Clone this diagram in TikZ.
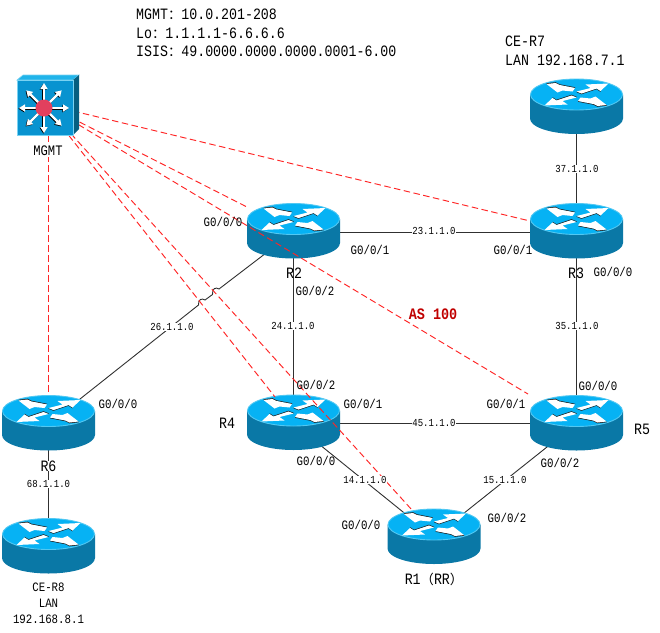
\documentclass[tikz,border=0pt]{standalone}
\usepackage{fontspec}
\setmainfont[FakeStretch=0.84]{Liberation Mono}
\newfontfamily\cjk{Noto Sans CJK SC}
\usetikzlibrary{arrows.meta,calc}
\definecolor{rtop}{HTML}{06B2F4}
\definecolor{rrim}{HTML}{52C8F2}
\definecolor{rside}{HTML}{0A78A6}
\definecolor{swfront}{HTML}{0893D0}
\definecolor{swtop}{HTML}{20B4EA}
\definecolor{swside}{HTML}{065F80}
\definecolor{hub}{HTML}{E2405E}
\definecolor{link}{HTML}{303030}
\definecolor{mgmtred}{HTML}{FF2626}
\definecolor{asred}{HTML}{C00000}
\tikzset{
  x=1pt,y=-1pt,
  linkline/.style={draw=link,line width=0.9pt},
  oob/.style={draw=mgmtred,line width=0.95pt,dash pattern=on 6.5pt off 3.5pt},
  iflabel/.style={font=\fontsize{12.8}{14}\selectfont,inner sep=0pt},
  netlabel/.style={font=\fontsize{10.7}{12}\selectfont,fill=white,inner sep=0.6pt},
  namelabel/.style={font=\fontsize{15.8}{18}\selectfont,inner sep=0pt},
  router/.pic={
    \fill[rside] (-46.5,0) -- (-46.5,24)
      .. controls (-46.5,32.6) and (-25.7,39.5) .. (0,39.5)
      .. controls (25.7,39.5) and (46.5,32.6) .. (46.5,24) -- (46.5,0) -- cycle;
    \fill[rtop,draw=rrim,line width=0.9pt] (0,0) ellipse [x radius=46,y radius=15.5];
    % four arrows on the lid, each with a thin dark edge
    \foreach \s in {1,-1}{
      \begin{scope}[xscale=\s,yscale=\s]
        \fill[black!85] (-30,-11.3) -- (-21,-12.3) -- (-17,-10.3) -- (-1.5,-7.3) -- (-1.5,-6.5) -- (-17,-9.5) -- (-30,-10.5) -- cycle;
        \fill[white] (-30,-10.5) -- (-21,-11.5) -- (-17,-9.5) -- (-1.5,-6.5) -- (-4,-3) -- (-14,-4) -- (-19,-2) -- cycle;
        \fill[black!85] (0,-2.2) -- (5,-0.2) -- (20,-5.2) -- (24,-2.7) -- (24,-3.5) -- (20,-6) -- (5,-1) -- (0,-3) -- cycle;
        \fill[white] (0,-3) -- (14,-6.5) -- (9,-10) -- (32,-11) -- (24,-3.5) -- (20,-6) -- (5,-1) -- cycle;
      \end{scope}
    }
  },
  spoke/.style={white,line width=2.4pt,-{Triangle[length=6pt,width=7pt]}},
  spokeedge/.style={black,line width=2.4pt,-{Triangle[length=6pt,width=7pt]}}
}
\begin{document}
\begin{tikzpicture}
\useasboundingbox (0,0) rectangle (660,632);

% attachment points of the routers
\coordinate (R2) at (293.5,232);
\coordinate (R3) at (576.5,232);
\coordinate (R4) at (293.5,423.5);
\coordinate (R5) at (576.5,423.5);
\coordinate (R1) at (434,537);
\coordinate (R6) at (48.5,424);
\coordinate (R7) at (576.5,107);
\coordinate (R8) at (48.5,547);
\coordinate (MGMT) at (44,104);
\coordinate (MGMTs) at (48,135);
\coordinate (tipR2) at (248,207.5);
\coordinate (tipR3) at (530,221);
\coordinate (tipR4) at (275,397);
\coordinate (tipR5) at (528,394);
\coordinate (tipR1) at (412,510);
\coordinate (tipR6) at (48,395);
\coordinate (hopAa) at (219,289);
\coordinate (hopAb) at (212.5,294.5);
\coordinate (hopBa) at (205,300);
\coordinate (hopBb) at (198.5,305);

% router-to-router links
\draw[linkline] (R2) -- (R3);
\draw[linkline] (R4) -- (R5);
\draw[linkline] (R2) -- (R4);
\draw[linkline] (R3) -- (R5);
\draw[linkline] (R7) -- (R3);
\draw[linkline] (R6) -- (R8);
\draw[linkline] (R4) -- (R1);
\draw[linkline] (R5) -- (R1);
\draw[linkline] (R2) -- (hopAa)
  .. controls (216,287) and (212,288) .. (hopAb) -- (hopBa)
  .. controls (202,298) and (198,299) .. (hopBb) -- (R6);

% router icons
\pic at (293.5,219) {router};
\pic at (576.5,219) {router};
\pic at (293.5,410.5) {router};
\pic at (576.5,411) {router};
\pic at (434,524.5) {router};
\pic at (48.5,411) {router};
\pic at (48.5,534) {router};
\pic at (576.5,94.5) {router};

% management links
\draw[oob] (MGMT) -- (tipR3);
\draw[oob] (MGMT) -- (tipR2);
\draw[oob] (MGMT) -- (tipR5);
\draw[oob] (MGMT) -- (tipR4);
\draw[oob] (MGMT) -- (tipR1);
\draw[oob] (MGMTs) -- (tipR6);

% management switch icon
\fill[swtop,draw=swtop!60!white,line width=0.6pt] (17,80) -- (23,75) -- (79,75) -- (73,80) -- cycle;
\fill[swside] (73,80) -- (79,75) -- (79,129) -- (73,135) -- cycle;
\fill[swfront,draw=swtop!60!white,line width=0.7pt] (17,80) rectangle (73,135);
\foreach \a in {0,45,...,315}{
  \draw[spokeedge] ($(44,108)+(-0.7,0.7)+(\a:7)$) -- ($(44,108)+(-0.7,0.7)+(\a:25)$);
}
\foreach \a in {0,45,...,315}{
  \draw[spoke] ($(44,108)+(\a:7)$) -- ($(44,108)+(\a:25)$);
}
\fill[hub] (44,108) circle [radius=8.5];

% header notes
\node[anchor=north west,align=left,inner sep=0pt,font=\fontsize{15.8}{18.6}\selectfont] (notes) at (136,9)
  {MGMT{\cjk\fontsize{13.3}{18.6}\selectfont ：}10.0.201-208\\Lo{\cjk\fontsize{13.3}{18.6}\selectfont ：}1.1.1.1-6.6.6.6\\ISIS{\cjk\fontsize{13.3}{18.6}\selectfont ：}49.0000.0000.0000.0001-6.00};
\node[anchor=north west,align=left,inner sep=0pt,font=\fontsize{15.8}{19}\selectfont] (ce7) at (505,36)
  {CE-R7\\LAN 192.168.7.1};
\node[align=center,inner sep=0pt,font=\fontsize{12.8}{16}\selectfont] (ce8) at (48.5,603)
  {CE-R8\\LAN\\192.168.8.1};

% device names
\node[font=\fontsize{14.5}{16}\selectfont,fill=white,inner sep=0.6pt] (nMGMT) at (48,151) {MGMT};
\node[namelabel] (nR2) at (294,273) {R2};
\node[namelabel] (nR3) at (576,273) {R3};
\node[namelabel] (nR4) at (227,423) {R4};
\node[namelabel] (nR5) at (642,429) {R5};
\node[namelabel,fill=white] (nR6) at (48.5,466) {R6};
\node[namelabel] (nR1) at (434,579) {R1{\cjk\fontsize{13.3}{15}\selectfont （}RR{\cjk\fontsize{13.3}{15}\selectfont ）}};
\node[font=\fontsize{16}{18}\selectfont\bfseries,text=asred,inner sep=0pt] (nAS) at (433,314) {AS 100};

% subnet labels
\node[netlabel] (n23) at (434,231) {23.1.1.0};
\node[netlabel] (n37) at (577,169) {37.1.1.0};
\node[netlabel] (n35) at (577,326) {35.1.1.0};
\node[netlabel] (n24) at (293,326) {24.1.1.0};
\node[netlabel] (n26) at (172,327) {26.1.1.0};
\node[netlabel] (n45) at (434,423) {45.1.1.0};
\node[netlabel] (n14) at (365,480) {14.1.1.0};
\node[netlabel] (n15) at (505,480) {15.1.1.0};
\node[netlabel] (n68) at (48.5,484) {68.1.1.0};

% interface labels
\node[iflabel] (i1) at (223,222) {G0/0/0};
\node[iflabel] (i2) at (370,250) {G0/0/1};
\node[iflabel] (i3) at (513,250) {G0/0/1};
\node[iflabel] (i4) at (613,272) {G0/0/0};
\node[iflabel] (i5) at (315,291) {G0/0/2};
\node[iflabel] (i6) at (316,385) {G0/0/2};
\node[iflabel] (i7) at (363,404) {G0/0/1};
\node[iflabel] (i8) at (316,461) {G0/0/0};
\node[iflabel] (i9) at (506,404) {G0/0/1};
\node[iflabel] (i10) at (598,386) {G0/0/0};
\node[iflabel] (i11) at (560,463) {G0/0/2};
\node[iflabel] (i12) at (361,525) {G0/0/0};
\node[iflabel] (i13) at (507,518) {G0/0/2};
\node[iflabel] (i14) at (118,404) {G0/0/0};
\end{tikzpicture}
\end{document}
